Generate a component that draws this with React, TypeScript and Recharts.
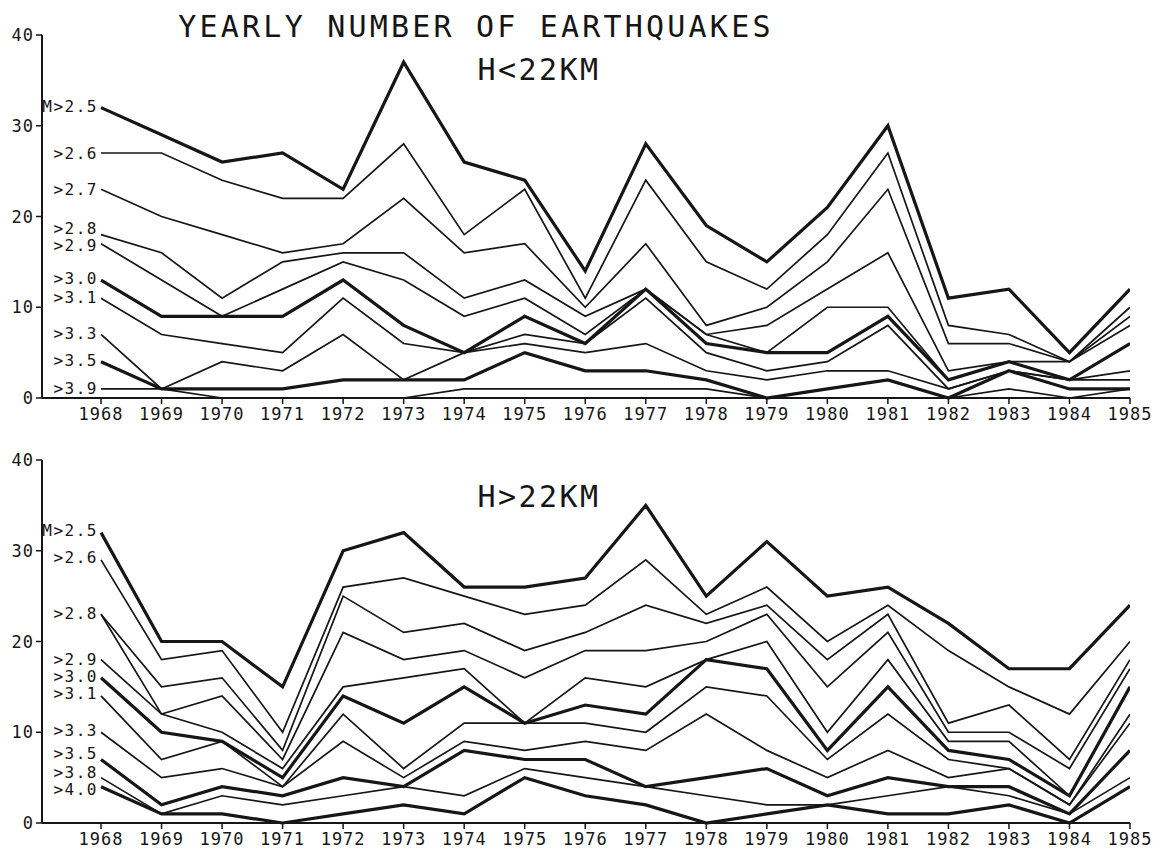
import React from 'react'
import { LineChart, Line, XAxis, YAxis, LabelList } from 'recharts'

// years on the x axis
const YEARS = [1968, 1969, 1970, 1971, 1972, 1973, 1974, 1975, 1976, 1977, 1978, 1979, 1980, 1981, 1982, 1983, 1984, 1985]
const Y_TICKS = [0, 10, 20, 30, 40]

// H<22KM, cumulative counts per magnitude threshold
const TOP_M25 = [32, 29, 26, 27, 23, 37, 26, 24, 14, 28, 19, 15, 21, 30, 11, 12, 5, 12]
const TOP_M26 = [27, 27, 24, 22, 22, 28, 18, 23, 11, 24, 15, 12, 18, 27, 8, 7, 4, 10]
const TOP_M27 = [23, 20, 18, 16, 17, 22, 16, 17, 10, 17, 8, 10, 15, 23, 6, 6, 4, 9]
const TOP_M28 = [18, 16, 11, 15, 16, 16, 11, 13, 9, 12, 7, 8, 12, 16, 3, 4, 4, 8]
const TOP_M29 = [17, 13, 9, 12, 15, 13, 9, 11, 7, 12, 7, 5, 10, 10, 2, 4, 2, 6]
const TOP_M30 = [13, 9, 9, 9, 13, 8, 5, 9, 6, 12, 6, 5, 5, 9, 2, 4, 2, 6]
const TOP_M31 = [11, 7, 6, 5, 11, 6, 5, 7, 6, 11, 5, 3, 4, 8, 1, 3, 2, 3]
const TOP_M33 = [7, 1, 4, 3, 7, 2, 5, 6, 5, 6, 3, 2, 3, 3, 1, 3, 2, 2]
const TOP_M35 = [4, 1, 1, 1, 2, 2, 2, 5, 3, 3, 2, 0, 1, 2, 0, 3, 1, 1]
const TOP_M39 = [1, 1, 0, 0, 0, 0, 1, 1, 1, 1, 1, 0, 1, 2, 0, 1, 0, 1]

// H>22KM
const BOT_M25 = [32, 20, 20, 15, 30, 32, 26, 26, 27, 35, 25, 31, 25, 26, 22, 17, 17, 24]
const BOT_M26 = [29, 18, 19, 10, 26, 27, 25, 23, 24, 29, 23, 26, 20, 24, 19, 15, 12, 20]
const BOT_M27 = [23, 15, 16, 8, 25, 21, 22, 19, 21, 24, 22, 24, 18, 23, 11, 13, 7, 18]
const BOT_M28 = [23, 12, 14, 7, 21, 18, 19, 16, 19, 19, 20, 23, 15, 21, 10, 10, 6, 17]
const BOT_M29 = [18, 12, 10, 6, 15, 16, 17, 11, 16, 15, 18, 20, 10, 18, 9, 9, 3, 15]
const BOT_M30 = [16, 10, 9, 5, 14, 11, 15, 11, 13, 12, 18, 17, 8, 15, 8, 7, 3, 15]
const BOT_M31 = [14, 7, 9, 4, 12, 6, 11, 11, 11, 10, 15, 14, 7, 12, 7, 6, 2, 12]
const BOT_M33 = [10, 5, 6, 4, 9, 5, 9, 8, 9, 8, 12, 8, 5, 8, 5, 6, 2, 11]
const BOT_M35 = [7, 2, 4, 3, 5, 4, 8, 7, 7, 4, 5, 6, 3, 5, 4, 4, 1, 8]
const BOT_M38 = [5, 1, 3, 2, 3, 4, 3, 6, 5, 4, 3, 2, 2, 3, 4, 3, 1, 5]
const BOT_M40 = [4, 1, 1, 0, 1, 2, 1, 5, 3, 2, 0, 1, 2, 1, 1, 2, 0, 4]

const INK = '#161616'
const FONT = '"DejaVu Sans Mono", monospace'

type Series = { key: string; name: string; values: number[]; thick: boolean; dy: number }

const TOP_SERIES: Series[] = [
  { key: 'm25', name: 'M>2.5', values: TOP_M25, thick: true, dy: -2 },
  { key: 'm26', name: '>2.6', values: TOP_M26, thick: false, dy: 0 },
  { key: 'm27', name: '>2.7', values: TOP_M27, thick: false, dy: 0 },
  { key: 'm28', name: '>2.8', values: TOP_M28, thick: false, dy: -7 },
  { key: 'm29', name: '>2.9', values: TOP_M29, thick: false, dy: 1 },
  { key: 'm30', name: '>3.0', values: TOP_M30, thick: true, dy: -2 },
  { key: 'm31', name: '>3.1', values: TOP_M31, thick: false, dy: -1 },
  { key: 'm33', name: '>3.3', values: TOP_M33, thick: false, dy: -1 },
  { key: 'm35', name: '>3.5', values: TOP_M35, thick: true, dy: -2 },
  { key: 'm39', name: '>3.9', values: TOP_M39, thick: false, dy: -1 },
]

const BOT_SERIES: Series[] = [
  { key: 'm25', name: 'M>2.5', values: BOT_M25, thick: true, dy: -3 },
  { key: 'm26', name: '>2.6', values: BOT_M26, thick: false, dy: -3 },
  { key: 'm27', name: '', values: BOT_M27, thick: false, dy: 0 },
  { key: 'm28', name: '>2.8', values: BOT_M28, thick: false, dy: -1 },
  { key: 'm29', name: '>2.9', values: BOT_M29, thick: false, dy: -1 },
  { key: 'm30', name: '>3.0', values: BOT_M30, thick: true, dy: -2 },
  { key: 'm31', name: '>3.1', values: BOT_M31, thick: false, dy: -3 },
  { key: 'm33', name: '>3.3', values: BOT_M33, thick: false, dy: -2 },
  { key: 'm35', name: '>3.5', values: BOT_M35, thick: true, dy: -6 },
  { key: 'm38', name: '>3.8', values: BOT_M38, thick: false, dy: -6 },
  { key: 'm40', name: '>4.0', values: BOT_M40, thick: true, dy: 2 },
]

function buildRows(series: Series[]) {
  return YEARS.map((year, i) => {
    const row: Record<string, number> = { year }
    series.forEach(s => { row[s.key] = s.values[i] })
    return row
  })
}

const TICK_STYLE = { fontFamily: FONT, fontSize: 17, letterSpacing: 1 }

const XTick = (p: any) => (
  <text x={p.x} y={p.y} dy={14} textAnchor="middle" fill={INK} style={TICK_STYLE}>
    {p.payload.value}
  </text>
)

const YTick = (p: any) => (
  <text x={p.x} y={p.y} dy={6} textAnchor="end" fill={INK} style={TICK_STYLE}>
    {p.payload.value}
  </text>
)

function Panel({ series, top }: { series: Series[]; top: number }) {
  const rows = buildRows(series)
  return (
    <div style={{ position: 'absolute', left: 0, top }}>
      <LineChart width={1164} height={431} data={rows} margin={{ top: 35, right: 34, bottom: 0, left: 0 }}>
        <XAxis type="number" dataKey="year" domain={[1967.025, 1985]} ticks={YEARS} interval={0}
          allowDataOverflow height={33} tickSize={6} tick={XTick}
          axisLine={{ stroke: INK, strokeWidth: 2 }} tickLine={{ stroke: INK, strokeWidth: 1.5 }} />
        <YAxis type="number" domain={[0, 40]} ticks={Y_TICKS} width={42} tickSize={6} tick={YTick}
          axisLine={{ stroke: INK, strokeWidth: 2 }} tickLine={{ stroke: INK, strokeWidth: 1.5 }} />
        {series.map(s => (
          <Line key={s.key} type="linear" dataKey={s.key} stroke={INK}
            strokeWidth={s.thick ? 3.2 : 1.7} dot={false} activeDot={false} isAnimationActive={false}>
            <LabelList dataKey={s.key} content={(p: any) => (p.index === 0 && s.name) ? (
              <text x={p.x - 3} y={p.y + s.dy} dy={6} textAnchor="end" fill={INK}
                style={{ fontFamily: FONT, fontSize: 16, letterSpacing: 1.5 }}>
                {s.name}
              </text>
            ) : null} />
          </Line>
        ))}
      </LineChart>
    </div>
  )
}

export default function App() {
  const titleStyle = { fontFamily: FONT, fontSize: 30, letterSpacing: 3.2 }
  return (
    <div style={{ position: 'absolute', left: 0, top: 0, width: 1164, height: 856, background: '#fff' }}>
      <Panel series={TOP_SERIES} top={0} />
      <Panel series={BOT_SERIES} top={425} />
      <svg width={1164} height={856} style={{ position: 'absolute', left: 0, top: 0, pointerEvents: 'none' }}>
        <text x={476} y={37} textAnchor="middle" fill={INK} style={titleStyle}>YEARLY NUMBER OF EARTHQUAKES</text>
        <text x={539} y={80} textAnchor="middle" fill={INK} style={{ ...titleStyle, letterSpacing: 2.4 }}>H&lt;22KM</text>
        <text x={539} y={507} textAnchor="middle" fill={INK} style={{ ...titleStyle, letterSpacing: 2.4 }}>H&gt;22KM</text>
      </svg>
    </div>
  )
}
